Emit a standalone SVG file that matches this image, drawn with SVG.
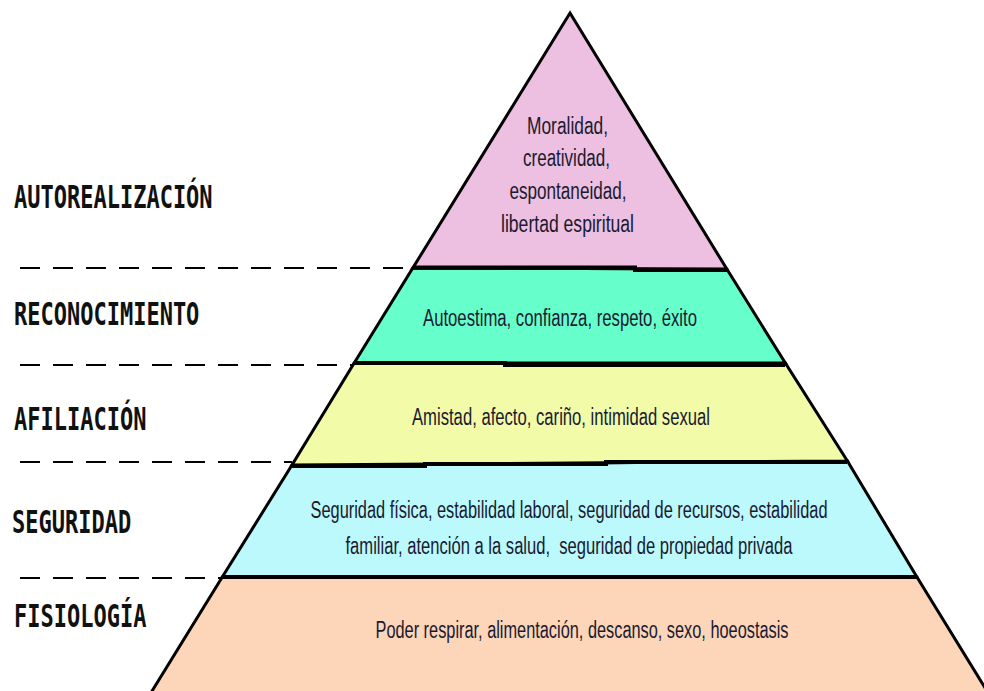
<svg xmlns="http://www.w3.org/2000/svg" width="984" height="691" viewBox="0 0 984 691">
<style>
.layer{stroke:#000;stroke-width:3;stroke-linejoin:miter}
.sep{stroke:#000;stroke-width:4;fill:none}
.dash{stroke:#000;stroke-width:2;stroke-dasharray:20 13;fill:none}
.lbl{font-family:"DejaVu Sans Mono","Liberation Mono",monospace;font-weight:bold;font-size:22px;fill:#111}
.t{font-family:"Liberation Sans","DejaVu Sans",sans-serif;font-size:23px;fill:#1a1a30;text-anchor:middle;white-space:pre}
</style>
<rect width="984" height="691" fill="#fff"/>
<g id="connectors">
<line class="dash" x1="20" y1="268" x2="411" y2="268"/>
<line class="dash" x1="20" y1="365" x2="353" y2="365"/>
<line class="dash" x1="20" y1="462" x2="292" y2="462"/>
<line class="dash" x1="20" y1="578" x2="222" y2="578"/>
</g>
<g id="fisiologia">
<polygon class="layer" fill="#FDD5B9" points="222.3,577 916.9,577 992.5,700 146.5,700"/>
<text class="t" x="582" y="638" textLength="413" lengthAdjust="spacingAndGlyphs">Poder respirar, alimentación, descanso, sexo, hoeostasis</text>
</g>
<g id="seguridad">
<polygon class="layer" fill="#BBF9FD" points="292,465 847.4,461 916.9,577 222.3,577"/>
<text class="t" x="569" y="518" textLength="517" lengthAdjust="spacingAndGlyphs">Seguridad física, estabilidad laboral, seguridad de recursos, estabilidad</text>
<text class="t" x="569" y="554" textLength="447" lengthAdjust="spacingAndGlyphs" xml:space="preserve">familiar, atención a la salud,  seguridad de propiedad privada</text>
</g>
<g id="afiliacion">
<polygon class="layer" fill="#F2FBA8" points="354.2,363 785.3,363 847.4,461 292,465"/>
<text class="t" x="561" y="425" textLength="298" lengthAdjust="spacingAndGlyphs">Amistad, afecto, cariño, intimidad sexual</text>
</g>
<g id="reconocimiento">
<polygon class="layer" fill="#66FFCC" points="412.8,268 726.8,269 785.3,363 354.2,363"/>
<text class="t" x="560" y="326" textLength="274" lengthAdjust="spacingAndGlyphs">Autoestima, confianza, respeto, éxito</text>
</g>
<g id="autorealizacion">
<polygon class="layer" fill="#EDBFE0" points="570,13 726.8,269 412.8,268"/>
<text class="t" x="567.5" y="134" textLength="81" lengthAdjust="spacingAndGlyphs">Moralidad,</text>
<text class="t" x="566.5" y="166" textLength="87" lengthAdjust="spacingAndGlyphs">creatividad,</text>
<text class="t" x="568" y="199" textLength="117" lengthAdjust="spacingAndGlyphs">espontaneidad,</text>
<text class="t" x="567.5" y="232" textLength="133" lengthAdjust="spacingAndGlyphs">libertad espiritual</text>
</g>
<g id="separators">
<polyline class="sep" points="412.8,267.5 635,267.5 635,270 727,270"/>
<polyline class="sep" points="354,363 505,363 505,365 785,365"/>
<polyline class="sep" points="292,466 425,466 425,464 606,464 606,462 847,462"/>
<line class="sep" x1="222" y1="577" x2="917" y2="577"/>
</g>
<g id="labels">
<g id="lbl-autorealizacion" transform="translate(14,208) scale(1,1.45)"><text class="lbl">AUTOREALIZACIÓN</text></g>
<g id="lbl-reconocimiento" transform="translate(14,325) scale(1,1.45)"><text class="lbl">RECONOCIMIENTO</text></g>
<g id="lbl-afiliacion" transform="translate(14,430) scale(1,1.45)"><text class="lbl">AFILIACIÓN</text></g>
<g id="lbl-seguridad" transform="translate(12,533) scale(1,1.45)"><text class="lbl">SEGURIDAD</text></g>
<g id="lbl-fisiologia" transform="translate(14,627) scale(1,1.45)"><text class="lbl">FISIOLOGÍA</text></g>
</g>
</svg>
